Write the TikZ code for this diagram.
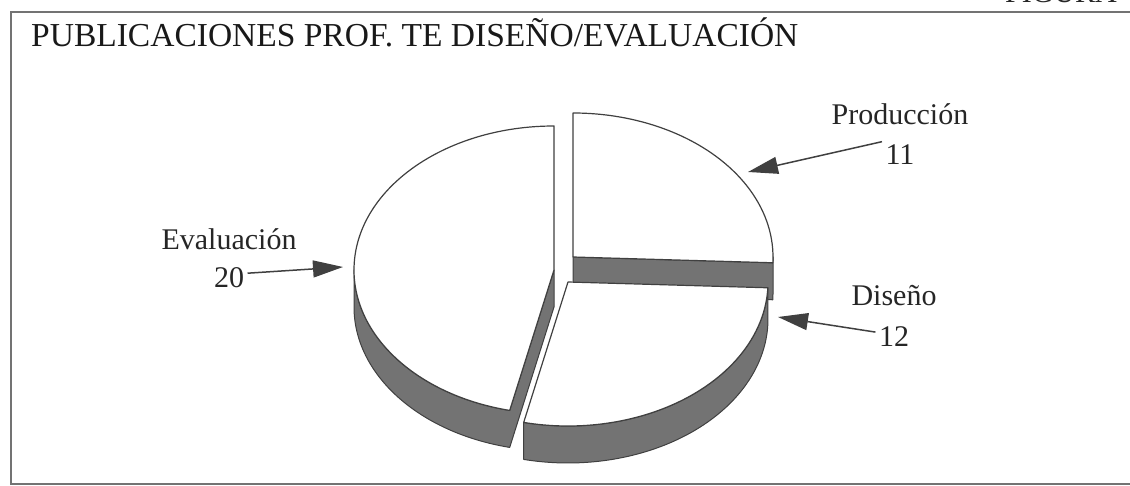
\documentclass[tikz,border=0pt]{standalone}
\usepackage{fontspec}
\setmainfont{Liberation Serif}
\usetikzlibrary{arrows.meta,calc}

\tikzset{
  sideface/.style={fill=black!55, draw=black!75, line width=1pt, line join=round},
  topface/.style={fill=white, draw=black!75, line width=1.2pt, line join=round},
  pointer/.style={draw=black!75, line width=1.5pt, -{Triangle[length=30pt,width=17pt]}},
  lbl/.style={font=\fontsize{30}{34}\selectfont, text=black!85, anchor=base},
  frame/.style={draw=black!55, line width=2pt}
}

\begin{document}
\begin{tikzpicture}[x=1pt, y=1pt]
  \useasboundingbox (0,0) rectangle (1130,485);
  % frame and headings
  \draw[frame] (1140,473) -- (11,473) -- (11,1) -- (1140,1);
  \node[lbl, anchor=base west, inner sep=0pt] (fig) at (1005,482) {FIGURA};
  \node[lbl, anchor=base west, inner sep=0pt, font=\fontsize{33.5}{36}\selectfont, text=black!90] (title) at (31,438) {PUBLICACIONES PROF. TE DISEÑO/EVALUACIÓN};

  % pie, one apex per slice
  \begin{scope}[x radius=200pt, y radius=144pt]
    \coordinate (apexP) at (573,228);
    \coordinate (apexE) at (554,215);
    \coordinate (apexD) at (568,203);
    % Produccion
    \draw[sideface] (apexP) -- ++(-2.3:200pt and 144pt) arc[start angle=-2.3, end angle=0]
      -- ++(0,-37) arc[start angle=0, end angle=-2.3] -- ($(apexP)+(0,-37)$) -- cycle;
    \draw[topface] (apexP) -- ++(-2.3:200pt and 144pt) arc[start angle=-2.3, end angle=90] -- cycle;
    % Evaluacion
    \draw[sideface] (apexE) ++(180:200pt and 144pt) arc[start angle=180, end angle=257.2]
      -- (apexE) -- ++(0,-37) -- ++(257.2:200pt and 144pt) arc[start angle=257.2, end angle=180] -- cycle;
    \draw[topface] (apexE) -- ++(0,144) arc[start angle=90, end angle=257.2] -- cycle;
    % Diseno
    \draw[sideface] (apexD) ++(-102.8:200pt and 144pt) arc[start angle=-102.8, end angle=-2.3]
      -- ++(0,-37) arc[start angle=-2.3, end angle=-102.8] -- cycle;
    \draw[topface] (apexD) -- ++(-102.8:200pt and 144pt) arc[start angle=-102.8, end angle=-2.3] -- cycle;
  \end{scope}

  % labels
  \node[lbl] (nameE) at (229,235) {Evaluación};
  \node[lbl] (numE) at (229,197) {20};
  \node[lbl] (nameP) at (900,360) {Producción};
  \node[lbl] (numP) at (900,320) {11};
  \node[lbl] (nameD) at (894,179) {Diseño};
  \node[lbl] (numD) at (894,138) {12};

  \coordinate (tipE) at (343,218);
  \coordinate (tipP) at (748,313);
  \coordinate (tipD) at (778,168);
  \draw[pointer] (numE.15) -- (tipE);
  \draw[pointer] (numP.north west) -- (tipP);
  \draw[pointer] (numD.165) -- (tipD);
\end{tikzpicture}
\end{document}
